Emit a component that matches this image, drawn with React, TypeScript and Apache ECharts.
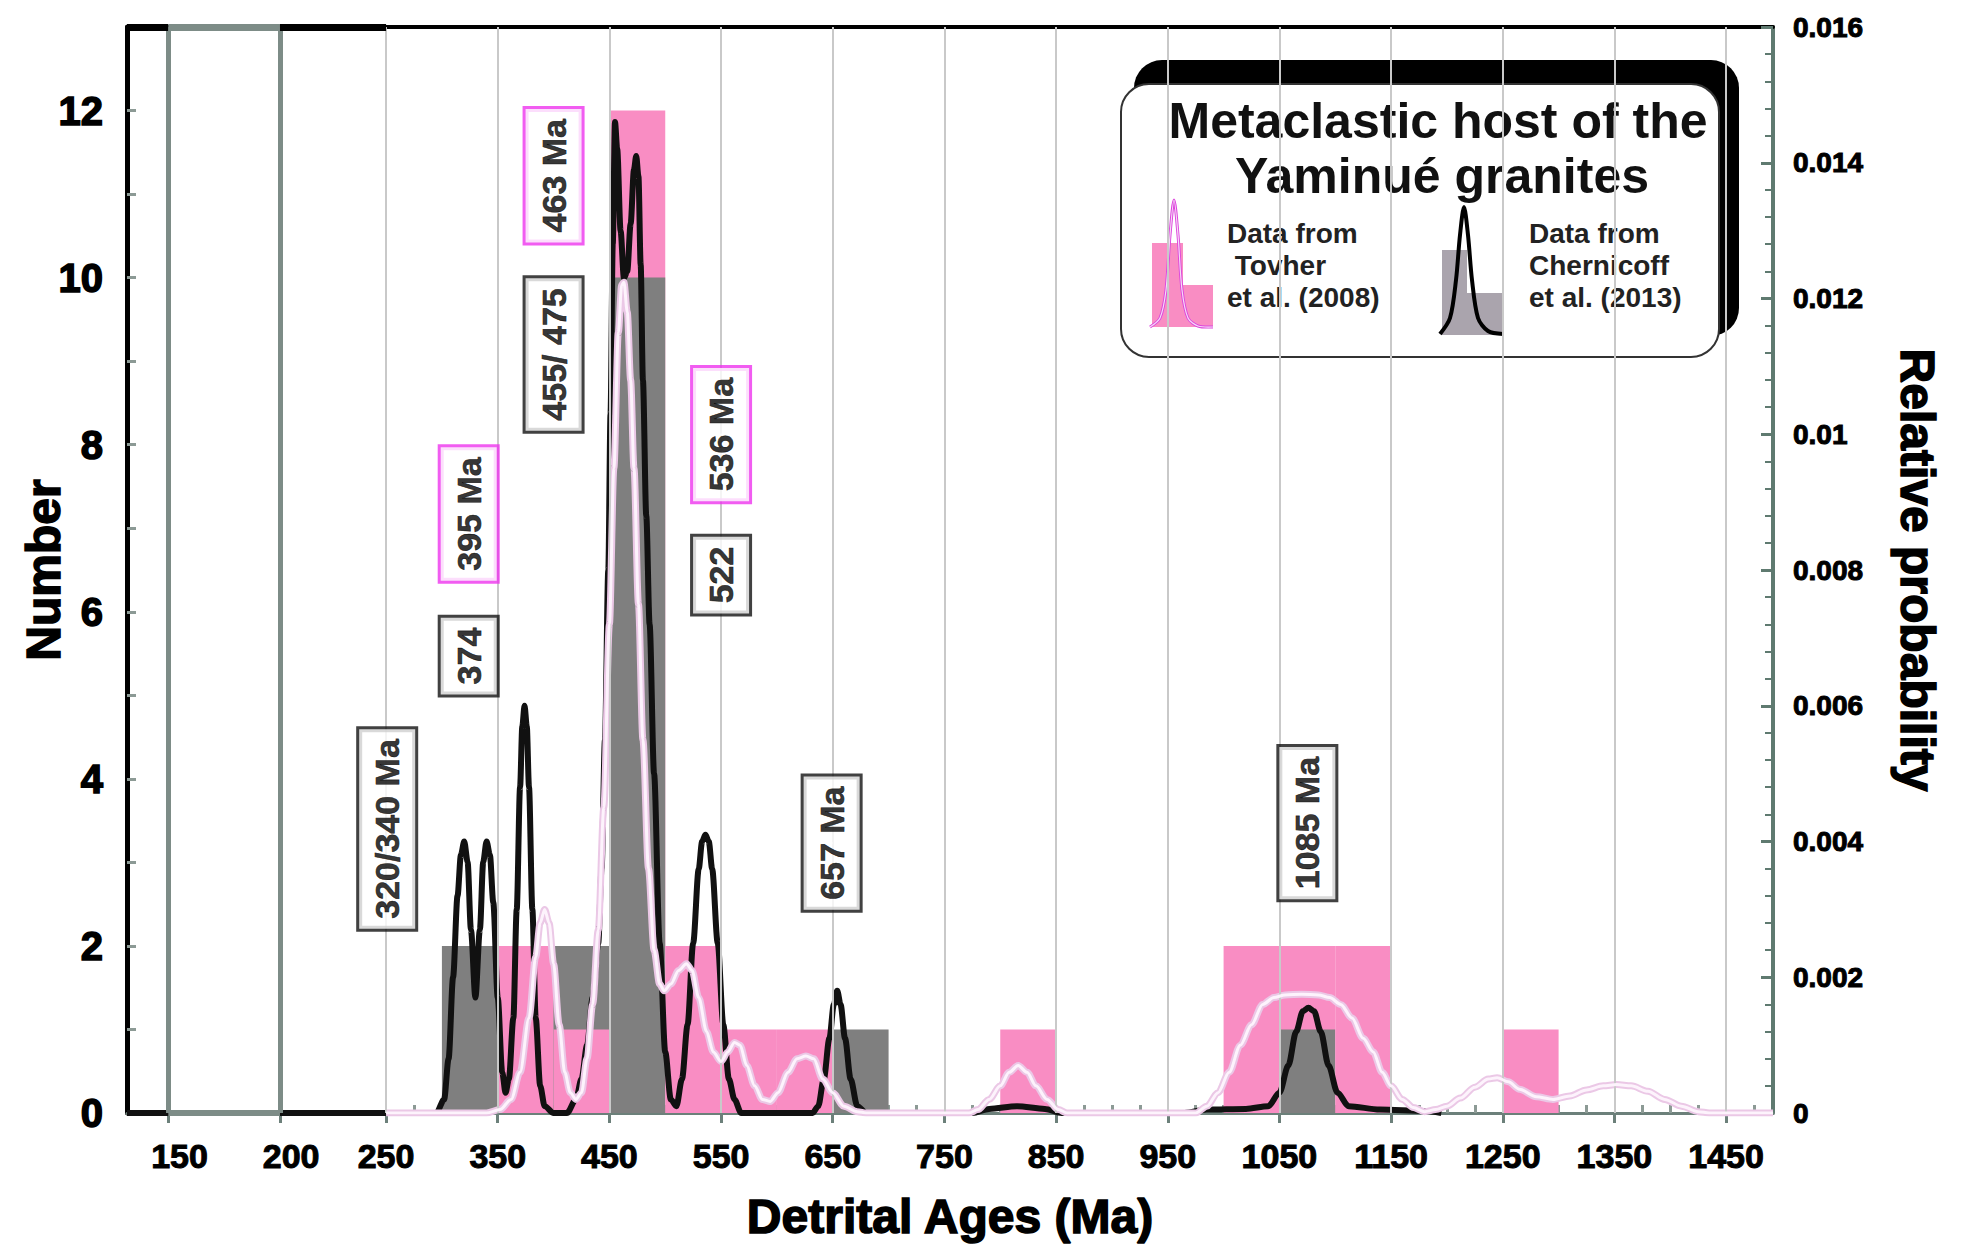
import React, { useEffect, useRef } from 'react';
import * as echarts from 'echarts';

// ---------- data ----------
const X_MIN = 18;
const X_MAX = 1492;

// histogram bins (Ma), width 50
const BIN_WIDTH = 50;
const binStarts = [300, 350, 400, 450, 500, 550, 600, 650, 700, 750, 800, 850, 900, 950, 1000, 1050, 1100, 1150, 1200, 1250];
const tovherCounts = [0, 2, 1, 12, 2, 1, 1, 0, 0, 0, 1, 0, 0, 0, 2, 2, 2, 0, 0, 1];
const chernicoffCounts = [2, 2, 2, 10, 0, 0, 0, 1, 0, 0, 0, 0, 0, 0, 0, 1, 0, 0, 0, 0];

// relative probability curves [age Ma, probability]
const chernicoffPdp: [number, number][] = [
  [18, 0], [295, 0], [302, 0.0002], [306, 0.0008], [310, 0.002], [314, 0.0032], [317, 0.0038], [320, 0.004],
  [323, 0.0037], [326, 0.0027], [330, 0.0017], [334, 0.0027], [337, 0.0037], [340, 0.004], [343, 0.0038],
  [346, 0.0031], [350, 0.0017], [354, 0.0006], [357, 0.0003], [360, 0.0005], [364, 0.0014], [367, 0.003],
  [370, 0.0048], [372, 0.0057], [374, 0.006], [376, 0.0057], [378, 0.0048], [381, 0.003], [384, 0.0014],
  [388, 0.0004], [392, 0.0001], [400, 0], [412, 0], [420, 0.0002], [425, 0.0005], [430, 0.001], [435, 0.0017],
  [440, 0.0025], [443, 0.0036], [446, 0.0055], [449, 0.008], [451, 0.0103], [453, 0.0128], [455, 0.0146],
  [457, 0.0142], [460, 0.013], [463, 0.0123], [466, 0.0124], [469, 0.0131], [472, 0.0139], [474, 0.0141],
  [476, 0.0138], [478, 0.0125], [480, 0.0108], [483, 0.0088], [486, 0.0072], [490, 0.005], [495, 0.0025],
  [500, 0.0009], [505, 0.0002], [510, 0.0001], [515, 0.0005], [520, 0.0013], [525, 0.0025], [530, 0.0036],
  [533, 0.004], [536, 0.0041], [539, 0.004], [542, 0.0036], [547, 0.0025], [552, 0.0013], [557, 0.0005],
  [562, 0.0002], [568, 0], [632, 0], [637, 0.0001], [642, 0.0005], [647, 0.0011], [651, 0.0016], [654, 0.0018],
  [657, 0.0016], [661, 0.0011], [666, 0.0005], [672, 0.0001], [680, 0], [775, 0], [790, 0.00006], [815, 0.0001],
  [840, 0.00006], [855, 0], [965, 0], [985, 0.00005], [1020, 0.00006], [1040, 0.0001], [1050, 0.0003],
  [1058, 0.0007], [1065, 0.0012], [1071, 0.0015], [1076, 0.00155], [1081, 0.0015], [1087, 0.0012],
  [1094, 0.0007], [1102, 0.0003], [1112, 0.0001], [1140, 0.00005], [1180, 0.00003], [1195, 0],
];

const tovherPdp: [number, number][] = [
  [250, 0], [340, 0], [352, 0.00005], [362, 0.0002], [370, 0.0006], [378, 0.0014], [384, 0.0023], [388, 0.0028],
  [392, 0.003], [396, 0.0028], [400, 0.0022], [405, 0.0013], [410, 0.0006], [415, 0.0003], [420, 0.0002],
  [425, 0.0003], [430, 0.0008], [435, 0.0016], [440, 0.0027], [445, 0.0045], [450, 0.0072], [454, 0.0095],
  [458, 0.0115], [461, 0.0122], [463, 0.01224], [466, 0.0118], [469, 0.0108], [472, 0.0095], [476, 0.0075],
  [480, 0.0055], [485, 0.0036], [490, 0.0024], [495, 0.0019], [499, 0.0018], [505, 0.0019], [512, 0.0021],
  [519, 0.0022], [524, 0.0021], [530, 0.0017], [537, 0.0012], [543, 0.0009], [550, 0.00076], [556, 0.0009],
  [562, 0.00104], [567, 0.001], [573, 0.0007], [580, 0.0004], [587, 0.0002], [594, 0.00017], [601, 0.0003],
  [610, 0.0006], [618, 0.0008], [626, 0.00084], [633, 0.0008], [641, 0.0005], [650, 0.0003], [660, 0.0001],
  [672, 0.00002], [680, 0], [772, 0], [780, 0.00005], [790, 0.0002], [800, 0.0004], [808, 0.0006], [816, 0.0007],
  [824, 0.0006], [832, 0.0004], [842, 0.0002], [852, 0.00005], [860, 0], [975, 0], [985, 0.0001], [995, 0.0003],
  [1005, 0.0006], [1015, 0.001], [1025, 0.0013], [1035, 0.0016], [1045, 0.0017], [1055, 0.00174], [1070, 0.00175],
  [1085, 0.00174], [1095, 0.0017], [1105, 0.0016], [1115, 0.0014], [1125, 0.0011], [1134, 0.0009], [1142, 0.0006],
  [1150, 0.0004], [1160, 0.0002], [1170, 0.00008], [1180, 0.00002], [1190, 0.00005], [1200, 0.0001],
  [1212, 0.00022], [1225, 0.00038], [1237, 0.0005], [1245, 0.00052], [1255, 0.00046], [1265, 0.00035],
  [1280, 0.00024], [1295, 0.0002], [1310, 0.00025], [1325, 0.00034], [1340, 0.0004], [1352, 0.00042],
  [1365, 0.0004], [1380, 0.00032], [1395, 0.0002], [1410, 0.0001], [1425, 0.00002], [1435, 0], [1492, 0],
];

// x axis ticks / labels
const xTickValues = [55, 155, 250, 350, 450, 550, 650, 750, 850, 950, 1050, 1150, 1250, 1350, 1450];
const xLabelValues = [65, 165, 250, 350, 450, 550, 650, 750, 850, 950, 1050, 1150, 1250, 1350, 1450];
const xTickLabels = ['150', '200', '250', '350', '450', '550', '650', '750', '850', '950', '1050', '1150', '1250', '1350', '1450'];
const xMinorTicks = [275, 300, 325, 375, 400, 425, 475, 500, 525, 575, 600, 625, 675, 700, 725, 775, 800, 825, 875, 900, 925,
  975, 1000, 1025, 1075, 1100, 1125, 1175, 1200, 1225, 1275, 1300, 1325, 1375, 1400, 1425, 1475];
const yTickValues = [0, 1, 2, 3, 4, 5, 6, 7, 8, 9, 10, 11, 12];
const yLabelValues = [0, 2, 4, 6, 8, 10, 12];

// vertical grid lines
const lightGridValues = [250, 350, 450, 550, 650, 750, 850, 950, 1050, 1150, 1250, 1350, 1450];
const boldGridValues = [55, 155];

// peak annotations
const annoTexts = ['320/340 Ma', '374', '395 Ma', '455/ 475', '463 Ma', '536 Ma', '522', '657 Ma', '1085 Ma'];
const annoAges = [251, 324, 324, 400, 400, 550, 550, 649, 1075];
const annoCounts = [3.4, 5.47, 7.17, 9.08, 11.22, 8.12, 6.44, 3.23, 3.47];
const annoBorders = ['#111', '#111', '#ee33ee', '#111', '#ee33ee', '#ee33ee', '#111', '#111', '#111'];

// ---------- styles ----------
const FONT = "'Liberation Sans', Arial, Helvetica, sans-serif";
const PINK = '#f98dc3';
const GRAY = '#7f7f7f';
const AXIS_GREEN = '#6c807a';
const TICK_GRAY = '#8c9a95';

const solid = (color: string, width: number) => ({ color, width, type: 'solid' as const });

function buildOption() {
  const gridMarks = [
    ...lightGridValues.map((v) => [
      { coord: [v, 0], lineStyle: solid('#c9c9c9', 2) },
      { coord: [v, 13] },
    ]),
    ...boldGridValues.map((v) => [
      { coord: [v, 0], lineStyle: solid('#7d8c87', 5) },
      { coord: [v, 13] },
    ]),
  ];
  const frameMarks = [
    [{ coord: [X_MIN, 13], lineStyle: solid('#000', 7) }, { coord: [boldGridValues[0], 13] }],
    [{ coord: [boldGridValues[0], 13], lineStyle: solid('#7d8c87', 7) }, { coord: [boldGridValues[1], 13] }],
    [{ coord: [boldGridValues[1], 13], lineStyle: solid('#000', 7) }, { coord: [250, 13] }],
    [{ coord: [boldGridValues[0], 0], lineStyle: solid('#7d8c87', 6) }, { coord: [boldGridValues[1], 0] }],
  ];

  const axisNameStyle = {
    fontFamily: FONT, fontWeight: 'bold', fontSize: 48, color: '#000',
    textBorderColor: '#000', textBorderWidth: 1.5,
  };

  const legendX1 = 1227;
  const legendX2 = 1529;
  const legendLines = [233, 265, 297];

  return {
    animation: false,
    backgroundColor: '#ffffff',
    grid: { left: 127, right: 192, top: 27, bottom: 146, containLabel: false, outerBoundsMode: 'none' },
    xAxis: [
      {
        type: 'value', position: 'bottom', min: X_MIN, max: X_MAX,
        name: 'Detrital Ages (Ma)', nameLocation: 'middle', nameGap: 79, nameMoveOverlap: false, nameTextStyle: axisNameStyle,
        axisLine: { show: true, onZero: false, lineStyle: solid(AXIS_GREEN, 3) },
        axisTick: { show: true, customValues: xTickValues, length: 10, lineStyle: solid(AXIS_GREEN, 3) },
        axisLabel: {
          show: true, customValues: xLabelValues, margin: 26,
          formatter: (v: number) => { const i = xLabelValues.indexOf(Math.round(v)); return i >= 0 ? xTickLabels[i] : ''; },
          fontFamily: FONT, fontWeight: 'bold', fontSize: 34, color: '#000',
          textBorderColor: '#000', textBorderWidth: 1,
        },
        splitLine: { show: false },
      },
      {
        type: 'value', position: 'bottom', min: X_MIN, max: X_MAX,
        axisLine: { show: false },
        axisTick: { show: true, inside: true, customValues: xMinorTicks, length: 8, lineStyle: solid(TICK_GRAY, 3) },
        axisLabel: { show: false },
        splitLine: { show: false },
      },
      {
        type: 'value', position: 'top', min: X_MIN, max: X_MAX,
        axisLine: { show: true, onZero: false, lineStyle: solid('#000', 4) },
        axisTick: { show: false }, axisLabel: { show: false }, splitLine: { show: false },
      },
    ],
    yAxis: [
      {
        type: 'value', position: 'left', min: 0, max: 13,
        name: 'Number', nameLocation: 'middle', nameGap: 60, nameRotate: 90, nameMoveOverlap: false, nameTextStyle: axisNameStyle,
        axisLine: { show: true, onZero: false, lineStyle: solid('#000', 5) },
        axisTick: { show: true, inside: true, customValues: yTickValues, length: 9, lineStyle: solid(TICK_GRAY, 3) },
        axisLabel: {
          show: true, customValues: yLabelValues, margin: 24,
          fontFamily: FONT, fontWeight: 'bold', fontSize: 40, color: '#000',
          textBorderColor: '#000', textBorderWidth: 1.5,
        },
        splitLine: { show: false },
      },
      {
        type: 'value', position: 'right', min: 0, max: 0.016, interval: 0.002,
        name: 'Relative probability', nameLocation: 'middle', nameGap: 120, nameRotate: -90, nameMoveOverlap: false, nameTextStyle: axisNameStyle,
        axisLine: { show: true, onZero: false, lineStyle: solid('#5f7a70', 4) },
        axisTick: { show: true, inside: true, length: 12, lineStyle: solid('#5f7a70', 3) },
        minorTick: { show: true, splitNumber: 5, length: 8, lineStyle: solid('#5f7a70', 2) },
        axisLabel: {
          show: true, margin: 20,
          formatter: (v: number) => (v === 0 ? '0' : String(Number(v.toFixed(3)))),
          fontFamily: FONT, fontWeight: 'bold', fontSize: 28, color: '#000',
          textBorderColor: '#000', textBorderWidth: 1,
        },
        splitLine: { show: false },
      },
    ],
    series: [
      {
        name: 'gridlines', type: 'line', xAxisIndex: 0, yAxisIndex: 0, z: 1, silent: true,
        data: [], symbol: 'none',
        markLine: { silent: true, symbol: ['none', 'none'], label: { show: false }, animation: false, data: gridMarks },
      },
      {
        name: 'Histogram', type: 'custom', xAxisIndex: 0, yAxisIndex: 0, z: 2, silent: true,
        renderItem: (_params: any, api: any) => {
          const x0 = api.value(0);
          const x1 = api.value(1);
          const p = api.value(2);
          const g = api.value(3);
          const mk = (v: number, fill: string) => {
            const a = api.coord([x0, v]);
            const b = api.coord([x1, 0]);
            return { type: 'rect', shape: { x: a[0], y: a[1], width: b[0] - a[0], height: b[1] - a[1] }, style: { fill } };
          };
          const pinkRect = p > 0 ? mk(p, PINK) : null;
          const grayRect = g > 0 ? mk(g, GRAY) : null;
          const order = p > g ? [pinkRect, grayRect] : [grayRect, pinkRect];
          return { type: 'group', children: order.filter(Boolean) };
        },
        encode: { x: [0, 1], y: [2, 3] },
        data: binStarts.map((s, i) => [s, s + BIN_WIDTH, tovherCounts[i], chernicoffCounts[i]]),
      },
      {
        name: 'Chernicoff et al. (2013)', type: 'line', xAxisIndex: 0, yAxisIndex: 1, z: 3,
        data: chernicoffPdp, symbol: 'none', smooth: 0.3, smoothMonotone: 'x',
        lineStyle: { color: '#111', width: 6 },
      },
      {
        name: 'Tovher et al. (2008)', type: 'line', xAxisIndex: 0, yAxisIndex: 1, z: 4,
        data: tovherPdp, symbol: 'none', smooth: 0.3, smoothMonotone: 'x',
        lineStyle: { color: '#ebc8e6', width: 7 },
      },
      {
        name: 'Tovher inner', type: 'line', xAxisIndex: 0, yAxisIndex: 1, z: 5,
        data: tovherPdp, symbol: 'none', smooth: 0.3, smoothMonotone: 'x',
        lineStyle: { color: '#fdf3fc', width: 3 },
      },
      {
        name: 'frame', type: 'line', xAxisIndex: 0, yAxisIndex: 0, z: 6, silent: true,
        data: [], symbol: 'none',
        markLine: { silent: true, symbol: ['none', 'none'], label: { show: false }, animation: false, data: frameMarks },
      },
      {
        name: 'peaks', type: 'scatter', xAxisIndex: 0, yAxisIndex: 0, z: 10, silent: true,
        symbolSize: 2, itemStyle: { color: '#ffffff' },
        data: annoTexts.map((t, i) => ({
          name: t,
          value: [annoAges[i], annoCounts[i]],
          label: { borderColor: annoBorders[i] },
        })),
        label: {
          show: true, position: 'inside', formatter: '{b}', rotate: 90,
          fontFamily: FONT, fontWeight: 'bold', fontSize: 34, lineHeight: 36, color: '#000',
          textBorderWidth: 0.6, textBorderColor: '#000', textShadowBlur: 0,
          backgroundColor: '#ffffff', borderWidth: 3, padding: [10, 10],
        },
        labelLayout: { hideOverlap: false },
      },
    ],
    graphic: [
      {
        type: 'group', z: 100,
        children: [
          { type: 'rect', shape: { x: 1134, y: 60, width: 605, height: 276, r: 28 }, style: { fill: '#000' } },
          { type: 'rect', shape: { x: 1121, y: 84, width: 598, height: 273, r: 28 }, style: { fill: '#fff', stroke: '#333', lineWidth: 2 } },
          { type: 'text', style: { text: 'Metaclastic host of the', x: 1438, y: 121, textAlign: 'center', textVerticalAlign: 'middle', fontFamily: FONT, fontWeight: 'bold', fontSize: 50, fill: '#111' } },
          { type: 'text', style: { text: 'Yaminué granites', x: 1442, y: 176, textAlign: 'center', textVerticalAlign: 'middle', fontFamily: FONT, fontWeight: 'bold', fontSize: 50, fill: '#111' } },
          // Tovher legend icon
          { type: 'rect', shape: { x: 1152, y: 243, width: 31, height: 84 }, style: { fill: PINK } },
          { type: 'rect', shape: { x: 1183, y: 285, width: 30, height: 42 }, style: { fill: PINK } },
          { type: 'polyline', shape: { points: [[1150, 327], [1160, 318], [1166, 290], [1170, 235], [1174, 200], [1178, 235], [1182, 290], [1188, 318], [1198, 326], [1213, 327]], smooth: 0.3 }, style: { stroke: '#dd44dd', lineWidth: 3, fill: 'none' } },
          { type: 'polyline', shape: { points: [[1150, 327], [1160, 318], [1166, 290], [1170, 235], [1174, 200], [1178, 235], [1182, 290], [1188, 318], [1198, 326], [1213, 327]], smooth: 0.3 }, style: { stroke: '#f6dcf6', lineWidth: 1.2, fill: 'none' } },
          { type: 'text', style: { text: 'Data from', x: legendX1, y: legendLines[0], textVerticalAlign: 'middle', fontFamily: FONT, fontWeight: 'bold', fontSize: 28, fill: '#222' } },
          { type: 'text', style: { text: ' Tovher', x: legendX1, y: legendLines[1], textVerticalAlign: 'middle', fontFamily: FONT, fontWeight: 'bold', fontSize: 28, fill: '#222' } },
          { type: 'text', style: { text: 'et al. (2008)', x: legendX1, y: legendLines[2], textVerticalAlign: 'middle', fontFamily: FONT, fontWeight: 'bold', fontSize: 28, fill: '#222' } },
          // Chernicoff legend icon
          { type: 'rect', shape: { x: 1442, y: 250, width: 25, height: 85 }, style: { fill: '#aaa4ad' } },
          { type: 'rect', shape: { x: 1467, y: 293, width: 36, height: 42 }, style: { fill: '#aaa4ad' } },
          { type: 'polyline', shape: { points: [[1440, 334], [1450, 318], [1456, 280], [1460, 235], [1464, 207], [1468, 235], [1472, 280], [1478, 318], [1488, 331], [1503, 334]], smooth: 0.3 }, style: { stroke: '#000', lineWidth: 4, fill: 'none' } },
          { type: 'text', style: { text: 'Data from', x: legendX2, y: legendLines[0], textVerticalAlign: 'middle', fontFamily: FONT, fontWeight: 'bold', fontSize: 28, fill: '#222' } },
          { type: 'text', style: { text: 'Chernicoff', x: legendX2, y: legendLines[1], textVerticalAlign: 'middle', fontFamily: FONT, fontWeight: 'bold', fontSize: 28, fill: '#222' } },
          { type: 'text', style: { text: 'et al. (2013)', x: legendX2, y: legendLines[2], textVerticalAlign: 'middle', fontFamily: FONT, fontWeight: 'bold', fontSize: 28, fill: '#222' } },
        ],
      },
    ],
  };
}

export default function App() {
  const ref = useRef<HTMLDivElement>(null);
  useEffect(() => {
    if (!ref.current) return;
    const chart = echarts.init(ref.current, null, { renderer: 'svg' });
    chart.setOption(buildOption() as any);
    return () => chart.dispose();
  }, []);
  return (
    <div
      ref={ref}
      style={{ position: 'fixed', left: 0, top: 0, width: 1965, height: 1259, background: '#ffffff' }}
    />
  );
}
